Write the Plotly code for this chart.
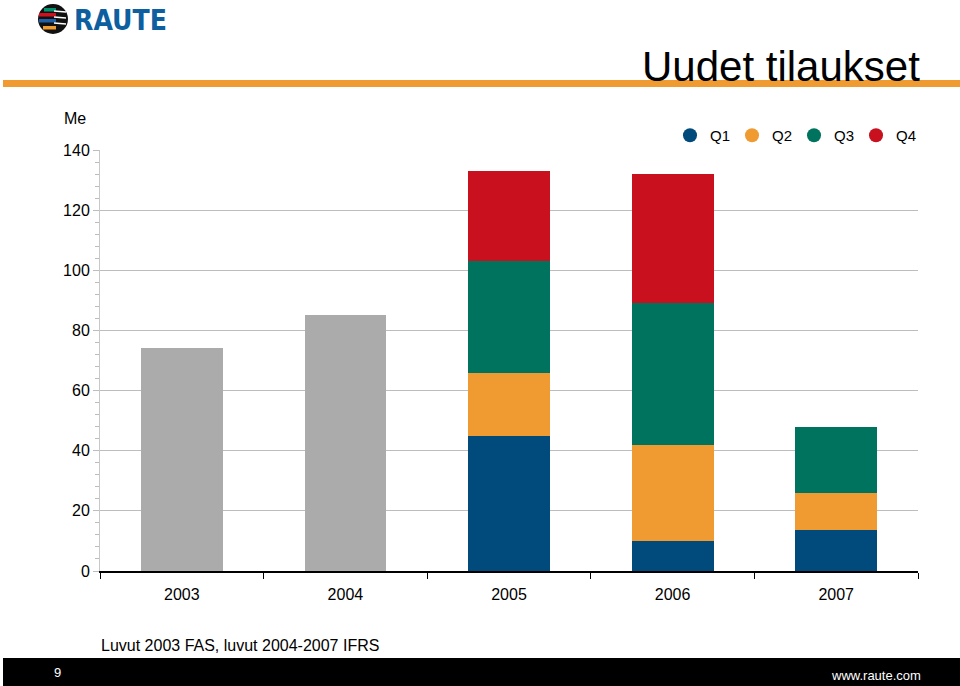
import plotly.graph_objects as go

years = ["2003", "2004", "2005", "2006", "2007"]
totals_early = [74, 85, None, None, None]
q1 = [None, None, 45, 10, 13.6]
q2 = [None, None, 21, 32, 12.3]
q3 = [None, None, 37, 47, 22]
q4 = [None, None, 30, 43, None]
quarter_names = ["Q1", "Q2", "Q3", "Q4"]
colors = ["#004B7C", "#F09B32", "#00735E", "#C8101E"]

W, H = 960, 686
L, R, T, B = 100, 918, 150, 571

def px(x):
    return (x - L) / (R - L)

def py(y):
    return (B - y) / (B - T)

fig = go.Figure()
fig.add_trace(go.Bar(x=years, y=totals_early, marker_color="#ABABAB",
                     marker_line_width=0, showlegend=False, hoverinfo="y"))
for name, vals, col in zip(quarter_names, [q1, q2, q3, q4], colors):
    fig.add_trace(go.Bar(x=years, y=vals, name=name, marker_color=col,
                         marker_line_width=0, showlegend=False))
for name, col in zip(quarter_names, colors):
    fig.add_trace(go.Scatter(x=[None], y=[None], mode="markers", name=name,
                             marker=dict(symbol="circle", size=14, color=col)))

font = "Liberation Sans, Arial, sans-serif"
fig.update_layout(
    width=W, height=H,
    margin=dict(l=L, r=W - R, t=T, b=H - B, pad=0),
    barmode="stack", bargap=0.5,
    paper_bgcolor="white", plot_bgcolor="white",
    font=dict(family=font, size=16, color="black"),
    showlegend=True,
    legend=dict(orientation="h", x=1.0, xanchor="right", y=py(135.5), yanchor="middle",
                font=dict(size=15), entrywidth=17, entrywidthmode="pixels",
                itemsizing="trace", bgcolor="rgba(0,0,0,0)", traceorder="normal"),
    xaxis=dict(type="category", showgrid=False, showline=True, linecolor="black",
               linewidth=1.5, ticks="outside", tickson="boundaries", ticklen=6,
               tickcolor="black", tickfont=dict(size=16), ticklabelstandoff=8),
    yaxis=dict(range=[0, 140], dtick=20, showgrid=True, gridcolor="#BDBDBD",
               gridwidth=1, showline=True, linecolor="#C8C8C8", linewidth=1,
               ticks="outside", ticklen=6, tickcolor="#BDBDBD",
               tickfont=dict(size=16), zeroline=False,
               minor=dict(dtick=4, ticks="outside", ticklen=4, tickcolor="#BDBDBD",
                          showgrid=False)),
)

shapes = []
# orange rule under title
shapes.append(dict(type="rect", xref="paper", yref="paper",
                   x0=px(3), x1=px(960), y0=py(87), y1=py(80),
                   fillcolor="#F09B32", line_width=0, layer="above"))
# black footer bar
shapes.append(dict(type="rect", xref="paper", yref="paper",
                   x0=px(3), x1=px(960), y0=py(686), y1=py(658),
                   fillcolor="black", line_width=0, layer="above"))
# logo globe
cx, cy, r = 53, 19, 15
shapes.append(dict(type="circle", xref="paper", yref="paper",
                   x0=px(cx - r), x1=px(cx + r), y0=py(cy + r), y1=py(cy - r),
                   fillcolor="#111111", line_width=0, layer="above"))
stripe_cols = ["#00916E", "#D0101E", "#1F5FA8", "#F09B32"]
stripe_y = [8, 13, 19, 26]
stripe_x0 = [44, 39, 39, 43]
for c, y0, x0 in zip(stripe_cols, stripe_y, stripe_x0):
    shapes.append(dict(type="rect", xref="paper", yref="paper",
                       x0=px(x0), x1=px(56), y0=py(y0 + 3.5), y1=py(y0),
                       fillcolor=c, line_width=0, layer="above"))
for y0 in [11, 17, 23]:
    shapes.append(dict(type="line", xref="paper", yref="paper",
                       x0=px(54), x1=px(66), y0=py(y0), y1=py(y0 + 1),
                       line=dict(color="white", width=1.5), layer="above"))
fig.update_layout(shapes=shapes)

ann = []
ann.append(dict(text="<b>RAUTE</b>", xref="paper", yref="paper", x=px(72), y=py(20),
                xanchor="left", yanchor="middle", showarrow=False,
                font=dict(family="DejaVu Sans Condensed, DejaVu Sans", size=28,
                          color="#0D5FA0")))
ann.append(dict(text="Uudet tilaukset", xref="paper", yref="paper", x=px(922), y=py(66),
                xanchor="right", yanchor="middle", showarrow=False,
                font=dict(family=font, size=42, color="black")))
ann.append(dict(text="Me", xref="paper", yref="paper", x=px(88), y=py(119),
                xanchor="right", yanchor="middle", showarrow=False,
                font=dict(family=font, size=16, color="black")))
ann.append(dict(text="Luvut 2003 FAS, luvut 2004-2007 IFRS", xref="paper", yref="paper",
                x=px(99), y=py(645), xanchor="left", yanchor="middle", showarrow=False,
                font=dict(family=font, size=16, color="black")))
ann.append(dict(text="9", xref="paper", yref="paper", x=px(57), y=py(672),
                xanchor="center", yanchor="middle", showarrow=False,
                font=dict(family=font, size=13, color="white")))
ann.append(dict(text="www.raute.com", xref="paper", yref="paper", x=px(923), y=py(675),
                xanchor="right", yanchor="middle", showarrow=False,
                font=dict(family=font, size=13, color="white")))
fig.update_layout(annotations=ann)

fig.write_html("out.html", config={"displayModeBar": False},
               post_script="document.body.style.margin='0';")
